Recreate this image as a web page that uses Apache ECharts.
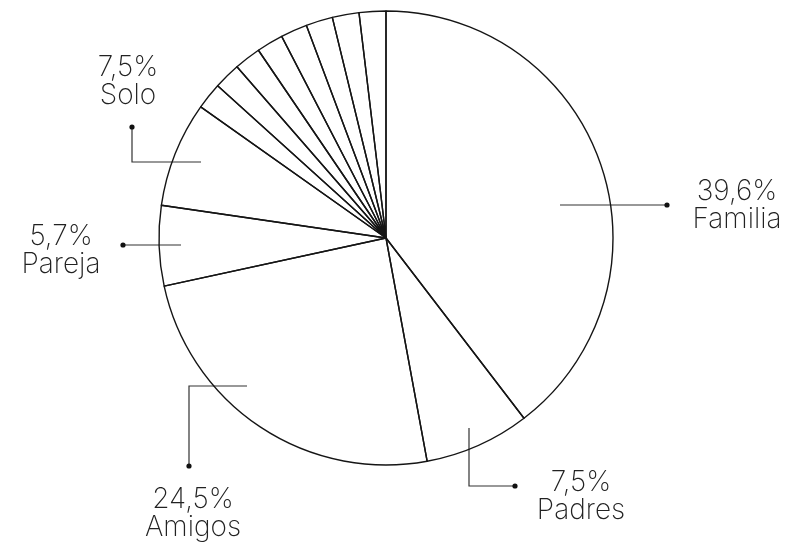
<!DOCTYPE html>
<html><head><meta charset="utf-8">
<script src="https://cdn.jsdelivr.net/npm/echarts@6/dist/echarts.min.js"></script>
<style>html,body{margin:0;padding:0;background:#fff}#c{width:797px;height:546px}</style>
</head><body><div id="c"></div>
<script>
// ---- data ----
const categories = ['Familia','Padres','Amigos','Pareja','Solo','Otro 1','Otro 2','Otro 3','Otro 4','Otro 5','Otro 6','Otro 7','Otro 8'];
const values = [39.6, 7.5, 24.5, 5.7, 7.5, 1.9, 1.9, 1.9, 1.9, 1.9, 1.9, 1.9, 1.9];
const valueLabels = ['39,6%','7,5%','24,5%','5,7%','7,5%', null, null, null, null, null, null, null, null];

// ---- layout (styling only) ----
const labelCenters = {
  Familia: [737, 206], Padres: [581, 497], Amigos: [193, 514], Pareja: [61, 251], Solo: [128, 82]
};
const leaderLines = {
  Familia: [[560,205],[614,205],[667,205]],
  Padres:  [[469,428],[469,486],[515,486]],
  Amigos:  [[247,386],[189,386],[189,466]],
  Pareja:  [[181,245],[150,245],[123,245]],
  Solo:    [[201,162],[132,162],[132,127]]
};

const chart = echarts.init(document.getElementById('c'), null, {renderer: 'canvas'});
const data = categories.map((n, i) => ({
  name: n, value: values[i],
  label: { show: valueLabels[i] !== null },
  labelLine: { show: valueLabels[i] !== null }
}));
const dots = Object.keys(leaderLines).map(k => {
  const p = leaderLines[k][2];
  return { type: 'circle', shape: { cx: p[0], cy: p[1], r: 2.6 }, style: { fill: '#111' }, z: 100 };
});
chart.setOption({
  backgroundColor: '#fff',
  animation: false,
  graphic: dots,
  series: [{
    type: 'pie',
    center: [386, 238],
    radius: 227,
    startAngle: 90,
    clockwise: true,
    avoidLabelOverlap: false,
    data: data,
    itemStyle: { color: 'rgba(255,255,255,0)', borderColor: '#151515', borderWidth: 1.4 },
    emphasis: { disabled: true },
    label: {
      formatter: p => valueLabels[p.dataIndex] + '\n' + p.name,
      fontFamily: 'Inter', fontWeight: 200, fontSize: 28, lineHeight: 28,
      color: '#222', align: 'center'
    },
    labelLine: { show: true, lineStyle: { color: '#333', width: 1.2 } },
    labelLayout: function (params) {
      const name = categories[params.dataIndex];
      const c = labelCenters[name];
      if (!c) return {};
      return {
        x: c[0], y: c[1], align: 'center', verticalAlign: 'middle',
        labelLinePoints: leaderLines[name]
      };
    }
  }]
});
</script></body></html>
